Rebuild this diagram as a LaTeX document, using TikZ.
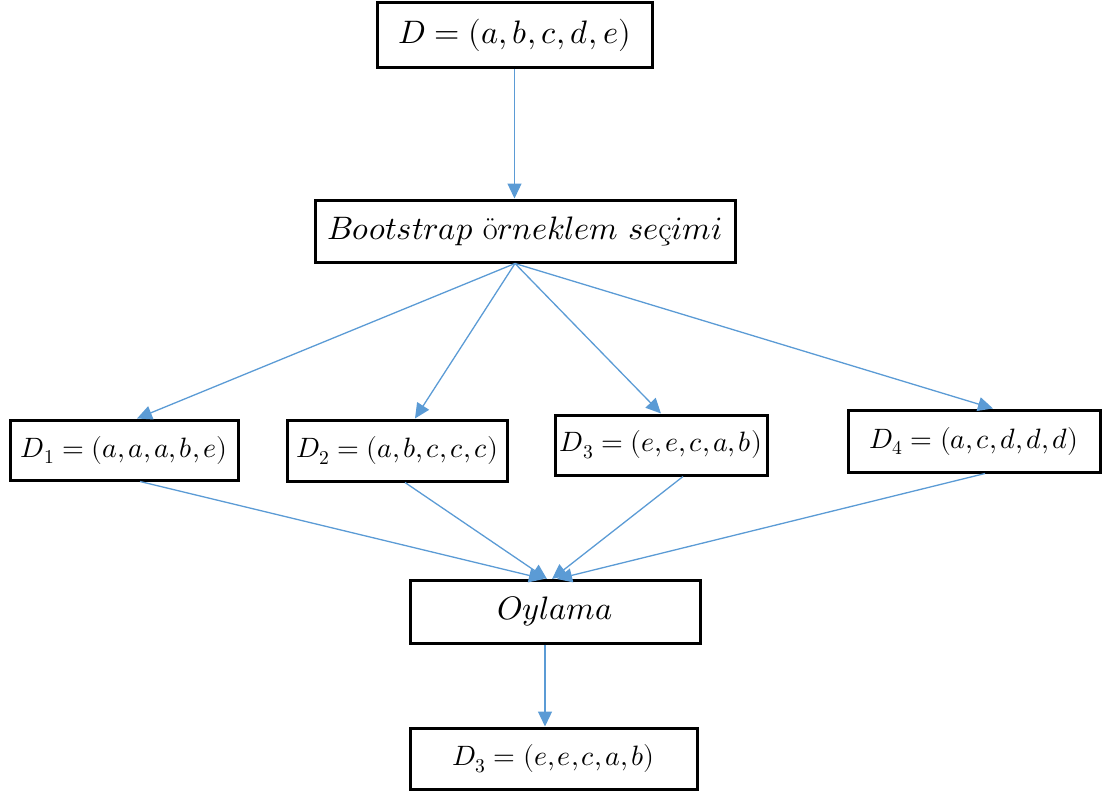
\documentclass[tikz,border=0pt]{standalone}
\usepackage{amsmath}
\usepackage{unicode-math}
\setmathfont{Latin Modern Math}
\usetikzlibrary{arrows.meta,calc}
\definecolor{flowblue}{RGB}{91,155,213}
\newcommand\tightcommas{\thinmuskip=2mu\relax}
\begin{document}
\begin{tikzpicture}[x=1pt,y=-1pt,
  box/.style={draw=black,line width=3pt,fill=white,inner sep=0pt},
  bigtext/.style={font=\fontsize{32.5}{38}\selectfont},
  smalltext/.style={font=\fontsize{28}{34}\selectfont\tightcommas},
  flow/.style={draw=flowblue,line width=1.3pt,
    -{Triangle[length=15pt,width=14pt]},color=flowblue}]
\useasboundingbox (0,0) rectangle (1111,792);

% boxes
\node[box,bigtext,minimum width=275pt,minimum height=65pt] (d)  at (514.5,35.5) {$D=(a,b,c,d,e)$};
\node[box,bigtext,minimum width=420pt,minimum height=62pt] (bs) at (525,231) {$Bootstrap\ \mbox{ö}rneklem\ se\mbox{ç}imi$};
\node[box,smalltext,minimum width=228pt,minimum height=60pt] (d1) at (124,450) {$D_1=(a,a,a,b,e)$};
\node[box,smalltext,minimum width=220pt,minimum height=61pt] (d2) at (397,450.5) {$D_2=(a,b,c,c,c)$};
\node[box,smalltext,minimum width=212pt,minimum height=60pt] (d3) at (661,445) {$D_3=(e,e,c,a,b)$};
\node[box,smalltext,minimum width=252pt,minimum height=62pt] (d4) at (974,441) {$D_4=(a,c,d,d,d)$};
\node[box,bigtext,minimum width=290pt,minimum height=63pt] (oy) at (555,611.5) {$Oylama$};
\node[box,smalltext,minimum width=287pt,minimum height=61pt] (fin) at (553.5,758.5) {$D_3=(e,e,c,a,b)$};

% fan-out point and arrow targets on the voting box
\coordinate (fan) at ([xshift=-10pt]bs.south);
\coordinate (in1) at (544,579);
\coordinate (in2) at (547,579);
\coordinate (in3) at (552,579);
\coordinate (in4) at (557,579);

% connectors
\draw[flow] (d.south) -- (d.south |- bs.north);
\draw[flow] (fan) -- ([xshift=13pt]d1.north);
\draw[flow] (fan) -- ([xshift=18pt]d2.north);
\draw[flow] (fan) -- (d3.north);
\draw[flow] (fan) -- ([xshift=19pt]d4.north);
\draw[flow] ([xshift=16pt]d1.south) -- (in1);
\draw[flow] ([xshift=8pt]d2.south) -- (in2);
\draw[flow] ([xshift=22pt]d3.south) -- (in3);
\draw[flow] ([xshift=11pt]d4.south) -- (in4);
\draw[flow] ([xshift=-10pt]oy.south) -- ([xshift=-10pt]oy.south |- fin.north);
\end{tikzpicture}
\end{document}
